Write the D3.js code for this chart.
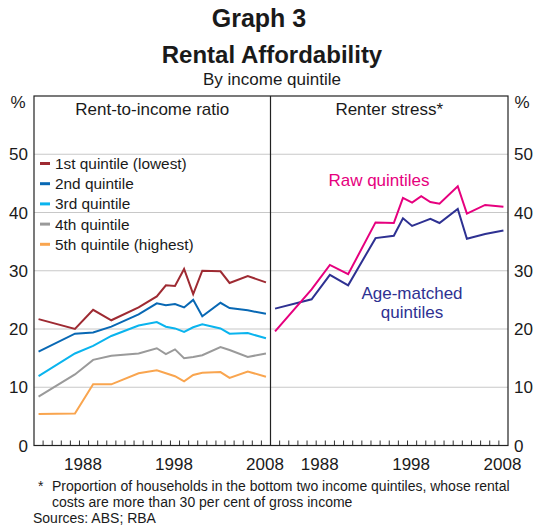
<!DOCTYPE html>
<html>
<head>
<meta charset="utf-8">
<script src="https://cdn.jsdelivr.net/npm/d3@7"></script>
<style>
  body { margin: 0; background: #fff; }
  text { font-family: "Liberation Sans", Arial, sans-serif; fill: #1a1a1a; }
</style>
</head>
<body>
<div id="chart"></div>
<script>
// survey years (financial years, plotted at year end)
const years = [1983, 1987, 1989, 1991, 1994, 1996, 1997, 1998, 1999, 2000, 2001, 2003, 2004, 2006, 2008];

// rent-to-income ratio by quintile, per cent
const q1 = [21.7, 20.0, 23.3, 21.5, 23.7, 25.6, 27.5, 27.4, 30.3, 26.0, 30.0, 29.9, 27.9, 29.1, 28.0];
const q2 = [16.1, 19.2, 19.4, 20.4, 22.5, 24.4, 24.1, 24.3, 23.7, 25.0, 22.2, 24.5, 23.6, 23.2, 22.6];
const q3 = [11.9, 15.8, 17.1, 18.8, 20.6, 21.2, 20.4, 20.1, 19.5, 20.3, 20.8, 20.1, 19.2, 19.3, 18.4];
const q4 = [8.4, 12.2, 14.7, 15.4, 15.8, 16.7, 15.7, 16.5, 15.0, 15.2, 15.5, 16.9, 16.4, 15.2, 15.8];
const q5 = [5.4, 5.5, 10.5, 10.5, 12.4, 12.9, 12.4, 11.9, 11.0, 12.1, 12.5, 12.6, 11.6, 12.7, 11.8];

// renter stress, per cent
const rawQuintiles = [19.6, 26.8, 31.0, 29.4, 38.3, 38.2, 42.5, 41.7, 42.8, 41.8, 41.5, 44.5, 39.8, 41.3, 41.0];
const ageMatched = [23.5, 25.1, 29.3, 27.5, 35.6, 36.0, 39.0, 37.7, 38.3, 38.9, 38.2, 40.6, 35.5, 36.3, 36.9];

const quintileNames = ["1st quintile (lowest)", "2nd quintile", "3rd quintile", "4th quintile", "5th quintile (highest)"];
const yTicks = [0, 10, 20, 30, 40, 50];
const xLabels = [1988, 1998, 2008];

const width = 541, height = 526;
const plotLeft = 34, plotRight = 508, plotTop = 96, plotBottom = 445.5;
const mid = (plotLeft + plotRight) / 2 - 0.5;

const svg = d3.select("#chart").append("svg")
  .attr("width", width)
  .attr("height", height);

const y = d3.scaleLinear().domain([0, 60]).range([plotBottom, plotTop]);
const xL = d3.scaleLinear().domain([1982.5, 2008.5]).range([plotLeft, mid]);
const xR = d3.scaleLinear().domain([1982.5, 2008.5]).range([mid, plotRight]);

// gridlines
svg.append("g")
  .selectAll("line")
  .data(yTicks.filter(d => d > 0))
  .enter().append("line")
  .attr("x1", plotLeft).attr("x2", plotRight)
  .attr("y1", d => y(d)).attr("y2", d => y(d))
  .attr("stroke", "#c8c8c8")
  .attr("stroke-width", 1.2);

// year ticks on both panels
const tickYears = d3.range(1983.5, 2008, 1);
[xL, xR].forEach(x => {
  svg.append("g")
    .selectAll("line")
    .data(tickYears)
    .enter().append("line")
    .attr("x1", d => x(d)).attr("x2", d => x(d))
    .attr("y1", plotBottom).attr("y2", plotBottom - 5)
    .attr("stroke", "#333")
    .attr("stroke-width", 1);

  svg.append("g")
    .selectAll("text")
    .data(xLabels)
    .enter().append("text")
    .attr("x", d => x(d) - 1)
    .attr("y", 470)
    .attr("text-anchor", "middle")
    .style("font-size", "17px")
    .text(d => d);
});

// y labels
svg.append("g")
  .selectAll("text")
  .data(yTicks)
  .enter().append("text")
  .attr("x", 28)
  .attr("y", d => y(d) + 6)
  .attr("text-anchor", "end")
  .style("font-size", "17px")
  .text(d => d);

svg.append("g")
  .selectAll("text")
  .data(yTicks)
  .enter().append("text")
  .attr("x", 514)
  .attr("y", d => y(d) + 6)
  .attr("text-anchor", "start")
  .style("font-size", "17px")
  .text(d => d);

svg.append("text").attr("x", 18).attr("y", 108).attr("text-anchor", "middle")
  .style("font-size", "17px").text("%");
svg.append("text").attr("x", 522).attr("y", 108).attr("text-anchor", "middle")
  .style("font-size", "17px").text("%");

// lines
const lineL = d3.line().x((d, i) => xL(years[i])).y(d => y(d));
const lineR = d3.line().x((d, i) => xR(years[i])).y(d => y(d));

const quintiles = [q1, q2, q3, q4, q5];
const qColors = ["#9e2a32", "#0868b4", "#0ab4ee", "#9a9a9a", "#f9a54f"];

svg.append("g")
  .selectAll("path")
  .data(quintiles)
  .enter().append("path")
  .attr("d", lineL)
  .attr("fill", "none")
  .attr("stroke", (d, i) => qColors[i])
  .attr("stroke-width", 2);

svg.append("path").attr("d", lineR(ageMatched))
  .attr("fill", "none").attr("stroke", "#2e3192").attr("stroke-width", 2);
svg.append("path").attr("d", lineR(rawQuintiles))
  .attr("fill", "none").attr("stroke", "#e6007e").attr("stroke-width", 2);

// frame
svg.append("rect")
  .attr("x", plotLeft).attr("y", plotTop)
  .attr("width", plotRight - plotLeft).attr("height", plotBottom - plotTop)
  .attr("fill", "none").attr("stroke", "#222").attr("stroke-width", 1.2);
svg.append("line")
  .attr("x1", mid).attr("x2", mid).attr("y1", plotTop).attr("y2", plotBottom)
  .attr("stroke", "#222").attr("stroke-width", 1.2);

// legend
const legend = svg.append("g")
  .selectAll("g")
  .data(quintileNames)
  .enter().append("g")
  .attr("transform", (d, i) => "translate(40," + (163.5 + i * 20.2) + ")");
legend.append("line")
  .attr("x1", 0).attr("x2", 10)
  .attr("stroke", (d, i) => qColors[i])
  .attr("stroke-width", 3);
legend.append("text")
  .attr("x", 15).attr("y", 5.5)
  .style("font-size", "15.4px")
  .text(d => d);

// panel titles
svg.append("text").attr("x", (plotLeft + mid) / 2).attr("y", 115).attr("text-anchor", "middle")
  .style("font-size", "17px").text("Rent-to-income ratio");
svg.append("text").attr("x", (mid + plotRight) / 2).attr("y", 115).attr("text-anchor", "middle")
  .style("font-size", "17px").text("Renter stress*");

// series annotations
svg.append("text").attr("x", 379).attr("y", 186).attr("text-anchor", "middle")
  .style("font-size", "17px").style("fill", "#e6007e").text("Raw quintiles");
svg.append("text").attr("x", 412).attr("y", 299).attr("text-anchor", "middle")
  .style("font-size", "17px").style("fill", "#2e3192").text("Age-matched");
svg.append("text").attr("x", 412).attr("y", 318).attr("text-anchor", "middle")
  .style("font-size", "17px").style("fill", "#2e3192").text("quintiles");

// titles
svg.append("text").attr("x", 259).attr("y", 27).attr("text-anchor", "middle")
  .style("font-size", "25px").style("font-weight", "bold").text("Graph 3");
svg.append("text").attr("x", 272).attr("y", 63).attr("text-anchor", "middle")
  .style("font-size", "24px").style("font-weight", "bold").text("Rental Affordability");
svg.append("text").attr("x", 272).attr("y", 85).attr("text-anchor", "middle")
  .style("font-size", "17px").text("By income quintile");

// footnotes
svg.append("text").attr("x", 38).attr("y", 491).style("font-size", "14px").text("*");
svg.append("text").attr("x", 52).attr("y", 491).style("font-size", "14px")
  .text("Proportion of households in the bottom two income quintiles, whose rental");
svg.append("text").attr("x", 52).attr("y", 507).style("font-size", "14px")
  .text("costs are more than 30 per cent of gross income");
svg.append("text").attr("x", 33).attr("y", 523).style("font-size", "14px")
  .text("Sources: ABS; RBA");
</script>
</body>
</html>
